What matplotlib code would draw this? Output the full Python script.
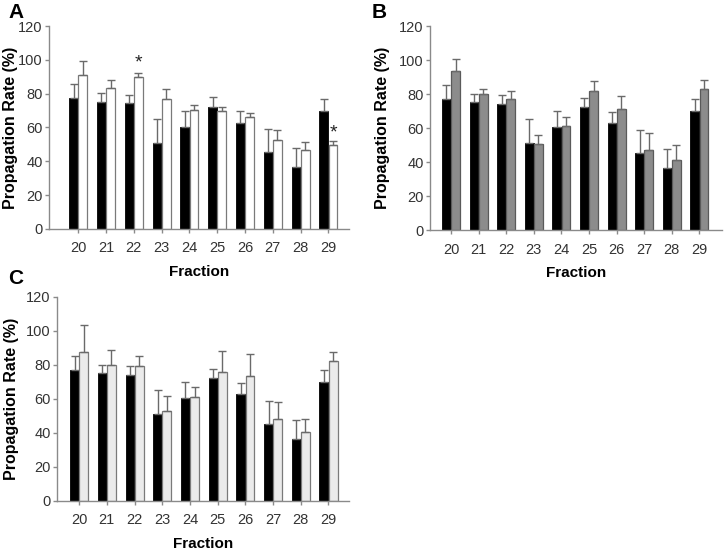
import matplotlib
matplotlib.use('Agg')
import matplotlib.pyplot as plt
import numpy as np

plt.rcParams['font.family'] = ['Liberation Sans', 'DejaVu Sans']

### Data ###
fractions = ['20', '21', '22', '23', '24', '25', '26', '27', '28', '29']

# control (black bars, same in every panel)
ctrl_mean = [77.2, 75.2, 74.3, 50.9, 60.5, 72.1, 62.7, 45.4, 36.5, 69.9]
ctrl_err = [8.3, 5.0, 4.9, 14.3, 9.4, 5.7, 7.0, 13.7, 11.2, 6.9]

# panel A (white bars)
a_mean = [91.0, 83.1, 89.8, 77.0, 70.5, 69.5, 66.4, 52.7, 46.8, 49.9]
a_err = [8.2, 4.9, 2.3, 5.7, 2.6, 2.4, 2.0, 5.8, 4.7, 2.0]
a_stars = [2, 9]
a_star_y = [98, 57]

# panel B (grey bars)
b_mean = [93.5, 79.8, 77.3, 50.4, 61.0, 81.8, 71.4, 47.1, 41.0, 82.9]
b_err = [7.3, 2.9, 4.5, 5.3, 5.7, 5.7, 7.2, 10.2, 9.2, 5.1]

# panel C (light grey bars)
c_mean = [87.8, 80.2, 79.4, 53.1, 61.0, 75.9, 73.7, 48.0, 40.6, 82.5]
c_err = [15.9, 8.8, 6.1, 8.9, 5.9, 12.5, 12.6, 10.0, 7.4, 5.1]

################
### Graphics ###
fig = plt.figure(figsize=(7.24, 5.53), dpi=100)

ax_A = fig.add_axes([49/724, 1-229/553, 300/724, 203/553])
ax_B = fig.add_axes([430/724, 1-230/553, 292/724, 204/553])
ax_C = fig.add_axes([57/724, 1-501/553, 292/724, 204/553])

W = 0.32
OFF = 0.165
x = np.arange(len(fractions))

def draw_panel(ax, mean2, err2, color2, edge2, xlim, ylab_x):
    ax.bar(x - OFF, ctrl_mean, W, color='black', edgecolor='black', linewidth=0.6,
           yerr=[np.zeros(len(x)), ctrl_err], capsize=3,
           error_kw=dict(ecolor='#6a6a6a', elinewidth=1, capthick=1))
    ax.bar(x + OFF, mean2, W, color=color2, edgecolor=edge2, linewidth=0.9,
           yerr=[np.zeros(len(x)), err2], capsize=3,
           error_kw=dict(ecolor='#6a6a6a', elinewidth=1, capthick=1))
    ax.set_ylim(0, 120)
    ax.set_xlim(*xlim)
    ax.set_yticks(range(0, 121, 20))
    ax.set_xticks(x, fractions)
    for s in ['top', 'right']:
        ax.spines[s].set_visible(False)
    for s in ['left', 'bottom']:
        ax.spines[s].set_color('#8a8a8a')
        ax.spines[s].set_linewidth(1)
    ax.tick_params(axis='y', direction='out', length=3, width=1, color='#8a8a8a',
                   labelsize=10.5, labelcolor='#333333', pad=1.5)
    ax.tick_params(axis='x', direction='out', length=3, width=1, color='#8a8a8a',
                   labelsize=10.5, labelcolor='#333333', pad=6)
    ax.set_ylabel('Propagation Rate (%)', fontsize=11.5, fontweight='bold', va='center')
    ax.yaxis.set_label_coords(ylab_x, 0.5)
    ax.set_xlabel('Fraction', fontsize=11, fontweight='bold', labelpad=7)

draw_panel(ax_A, a_mean, a_err, 'white', '#7a7a7a', (-1.05, 9.74), -0.128)
draw_panel(ax_B, b_mean, b_err, '#8c8c8c', '#5a5a5a', (-0.76, 9.82), -0.164)
draw_panel(ax_C, c_mean, c_err, '#ebebeb', '#7a7a7a', (-0.80, 9.74), -0.157)

## Significance stars
for i, yy in zip(a_stars, a_star_y):
    ax_A.text(x[i] + OFF, yy, '*', ha='center', va='center', fontsize=14, color='#222222')

## Panel letters
fig.text(8/724, 1-12/553, 'A', fontsize=15, fontweight='bold', ha='left', va='center')
fig.text(372/724, 1-12/553, 'B', fontsize=15, fontweight='bold', ha='left', va='center')
fig.text(8/724, 1-279/553, 'C', fontsize=15, fontweight='bold', ha='left', va='center')

fig.savefig('out.png', dpi=100)
